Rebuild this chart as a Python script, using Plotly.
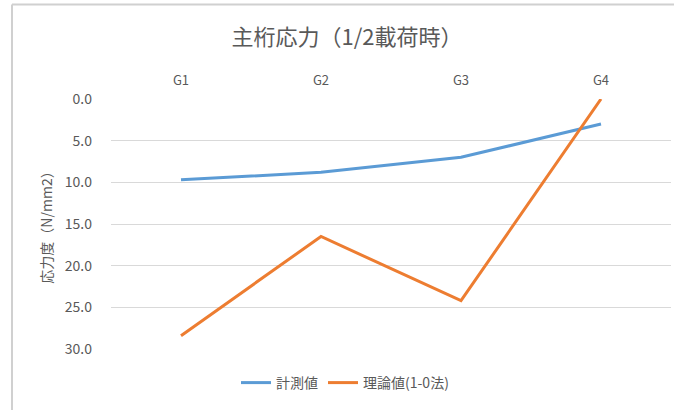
import plotly.graph_objects as go

categories = ["G1", "G2", "G3", "G4"]
measured = [9.7, 8.8, 7.0, 3.0]
theory = [28.4, 16.5, 24.2, 0.0]
y_ticks = [0, 5, 10, 15, 20, 25, 30]

FONT = "Noto Sans CJK JP"
GREY = "#595959"

L, R, T, B = 111, 3, 99, 61
W, H = 674, 410
pw, ph = W - L - R, H - T - B

def px(x):
    return (x - L) / pw

def py(y):
    return (H - B - y) / ph

fig = go.Figure()
fig.add_trace(go.Scatter(x=categories, y=measured, mode="lines", name="計測値",
                         line=dict(color="#5b9bd5", width=3)))
fig.add_trace(go.Scatter(x=categories, y=theory, mode="lines", name="理論値(1-0法)",
                         line=dict(color="#ed7d31", width=3)))

fig.update_layout(
    width=W, height=H,
    margin=dict(l=L, r=R, t=T, b=B),
    paper_bgcolor="white", plot_bgcolor="white",
    font=dict(family=FONT, color=GREY, size=12),
    title=dict(text="主桁応力（1/2載荷時）", xref="container", x=347 / W, xanchor="center",
               yref="container", y=1 - 37 / H, yanchor="middle",
               font=dict(size=22, color=GREY, family=FONT)),
    showlegend=True,
    legend=dict(orientation="h", x=px(345), xanchor="center", y=py(383), yanchor="middle",
                font=dict(size=14, color=GREY, family=FONT), bgcolor="rgba(0,0,0,0)"),
    xaxis=dict(side="top", showgrid=False, showline=False, ticks="", range=[-0.5, 3.5],
               ticklabelstandoff=10,
               tickfont=dict(size=13, color=GREY), zeroline=False),
    yaxis=dict(range=[30, 0], tickvals=y_ticks, tickformat=".1f",
               showgrid=True, gridcolor="#d9d9d9", gridwidth=1, zeroline=False,
               showline=False, ticks="", ticklabelstandoff=18,
               tickfont=dict(size=14, color=GREY),
               title=dict(text="応力度（N/mm2）", font=dict(size=14, color=GREY), standoff=8)),
    shapes=[
        dict(type="line", xref="paper", yref="paper", x0=px(12), x1=px(12),
             y0=py(4.5), y1=py(H + 5), line=dict(color="#d0d0d0", width=2)),
        dict(type="line", xref="paper", yref="paper", x0=px(12), x1=px(W + 5),
             y0=py(4.5), y1=py(4.5), line=dict(color="#d0d0d0", width=2)),
    ],
)

fig.write_html("out.html")
